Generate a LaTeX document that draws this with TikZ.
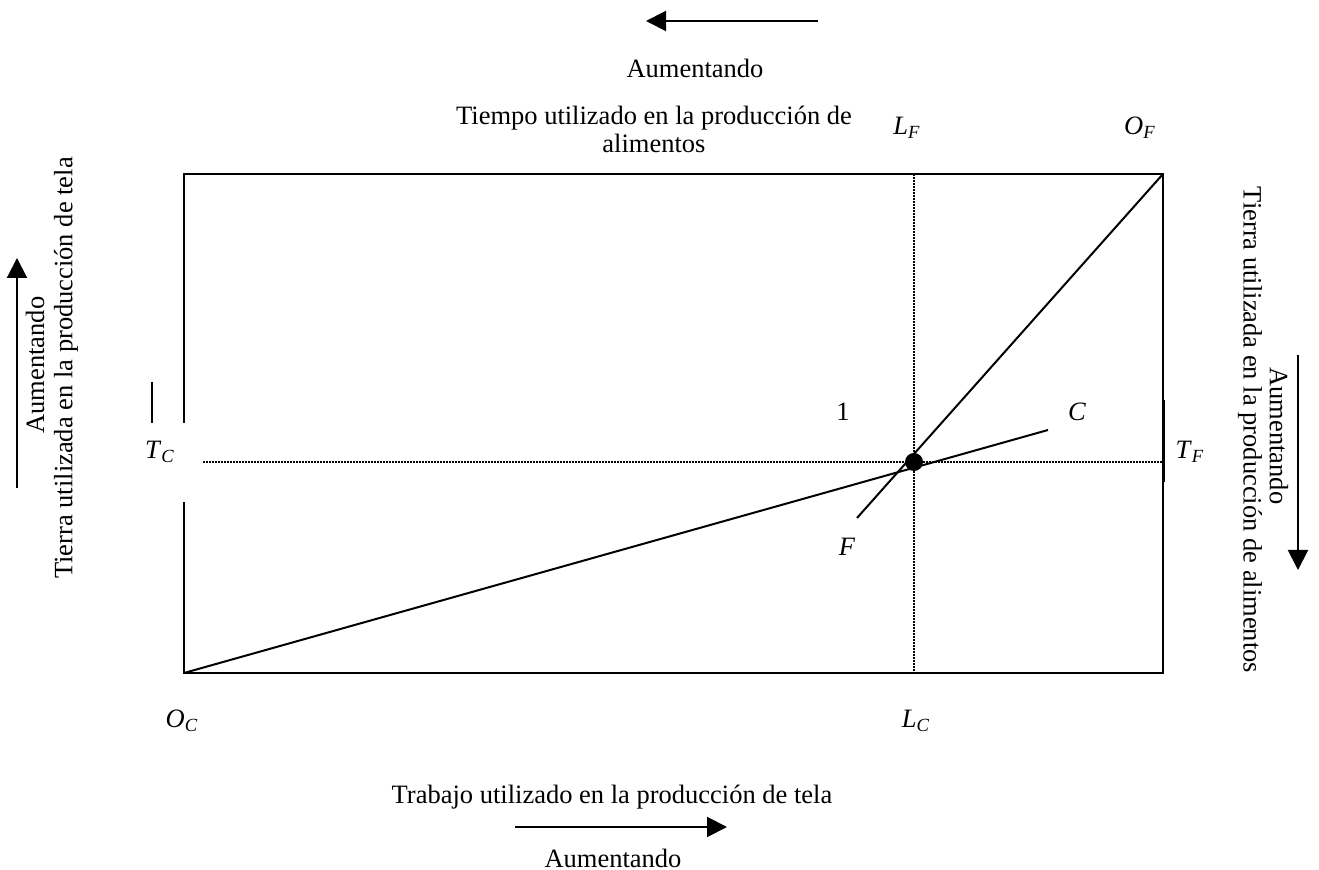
\documentclass[tikz,border=0pt]{standalone}
\usepackage{fontspec}
\setmainfont{Liberation Serif}
\usetikzlibrary{arrows.meta}
\newcommand{\sublab}[2]{\textit{#1}\textsubscript{\textit{#2}}}
\begin{document}
\begin{tikzpicture}[x=0.5pt,y=-0.5pt,
  every node/.style={inner sep=0pt,outer sep=0pt,font=\fontsize{13.25}{14}\selectfont},
  frame/.style={line width=1pt},
  curve/.style={line width=1pt},
  guide/.style={line width=0.6pt,dash pattern=on 0.8pt off 0.7pt},
  bigarrow/.style={line width=1pt,-{Triangle[length=10pt,width=10pt]}},
  lbl/.style={anchor=center}]
\useasboundingbox (0,0) rectangle (1319,870);
% corners and ends
\coordinate (OCc) at (184,673);
\coordinate (OFc) at (1163,174);
\coordinate (TL) at (184,174);
\coordinate (BR) at (1163,673);
\coordinate (gapTop) at (184,423);
\coordinate (gapBot) at (184,502);
\coordinate (Cend) at (1048,430);
\coordinate (Fend) at (857,518);
\coordinate (hL) at (203,462);
\coordinate (hR) at (1163,462);
\coordinate (vT) at (914,174);
\coordinate (vB) at (914,673);
% frame
\draw[frame] (gapTop) -- (TL) -- (OFc) -- (BR) -- (OCc) -- (gapBot);
\coordinate (tickA) at (152,382);
\coordinate (tickB) at (152,423);
\draw[frame] (tickA) -- (tickB);
\coordinate (rtA) at (1163,400);
\coordinate (rtB) at (1163,482);
\draw[line width=1.5pt] (rtA) -- (rtB);
% guides
\draw[guide] (hL) -- (hR);
\draw[guide] (vT) -- (vB);
% curves
\draw[curve] (OCc) -- (Cend);
\draw[curve] (OFc) -- (Fend);
\node[circle,fill=black,minimum size=9pt] (eq) at (914,462) {};
% labels
\node[lbl] (one) at (843,412) {1};
\node[lbl] (labC) at (1077,412) {\textit{C}};
\node[lbl] (labF) at (847,547) {\textit{F}};
\node[lbl] (TC) at (160,452) {\sublab{T}{C}};
\node[lbl] (TF) at (1190,452) {\sublab{T}{F}};
\node[lbl] (LF) at (907,128) {\sublab{L}{F}};
\node[lbl] (OF) at (1140,128) {\sublab{O}{F}};
\node[lbl] (OC) at (182,721) {\sublab{O}{C}};
\node[lbl] (LC) at (916,721) {\sublab{L}{C}};
% top
\coordinate (taS) at (818,21);
\coordinate (taE) at (646,21);
\draw[bigarrow] (taS) -- (taE);
\node[lbl] (topAum) at (695,68) {Aumentando};
\node[lbl,align=center] (topTxt) at (654,129) {Tiempo utilizado en la producción de\\alimentos};
% bottom
\node[lbl] (botTxt) at (612,797) {Trabajo utilizado en la producción de tela};
\coordinate (baS) at (515,827);
\coordinate (baE) at (727,827);
\draw[bigarrow] (baS) -- (baE);
\node[lbl] (botAum) at (613,858) {Aumentando};
% left
\coordinate (laS) at (17,488);
\coordinate (laE) at (17,258);
\draw[bigarrow] (laS) -- (laE);
\node[lbl,rotate=90] (leftAum) at (35,365) {Aumentando};
\node[lbl,rotate=90] (leftTxt) at (66,368) {Tierra utilizada en la producción de tela};
% right
\coordinate (raS) at (1298,355);
\coordinate (raE) at (1298,570);
\draw[bigarrow] (raS) -- (raE);
\node[lbl,rotate=-90] (rightAum) at (1279,436) {Aumentando};
\node[lbl,rotate=-90] (rightTxt) at (1250,430) {Tierra utilizada en la producción de alimentos};
\end{tikzpicture}
\end{document}
